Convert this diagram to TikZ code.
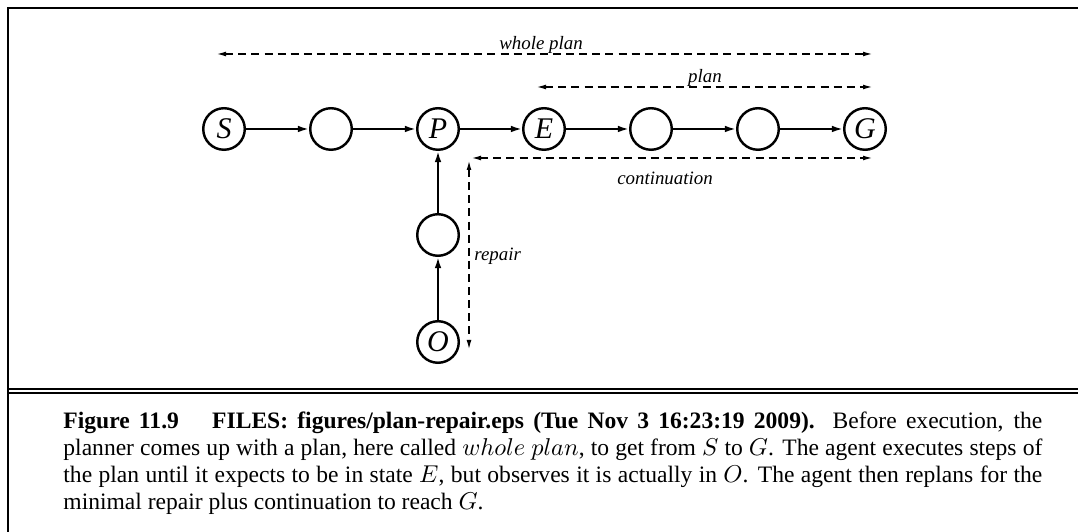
\documentclass[tikz,border=0pt]{standalone}
\usepackage{fontspec}
\setmainfont{Liberation Serif}
\usetikzlibrary{arrows.meta}
\begin{document}
\begin{tikzpicture}[x=0.45pt,y=-0.45pt,
  state/.style={circle,draw,line width=1.1pt,minimum size=18.7pt,inner sep=0pt,
    font=\fontsize{13.5}{16}\selectfont\itshape},
  flow/.style={line width=0.9pt,-{Latex[length=5pt,width=3pt]}},
  span/.style={line width=0.75pt,dash pattern=on 3.6pt off 2.3pt,
    {Latex[length=4.5pt,width=2.2pt]}-{Latex[length=4.5pt,width=2.2pt]}},
  lbl/.style={font=\fontsize{8.5}{10}\selectfont\itshape,inner sep=0pt},
  caption/.style={anchor=base west,inner sep=0pt,text width=440.5pt,align=justify,
    font=\fontsize{10.6}{12.15}\selectfont}]
\useasboundingbox (0,0) rectangle (1078,532);
% frame
\draw[line width=1.1pt,line join=miter] (8,532) -- (8,8) -- (1078,8);
\draw[line width=0.75pt] (8,389) -- (1078,389);
\draw[line width=1.3pt] (8,393) -- (1078,393);
% states
\node[state] (S)  at (224,129) {S};
\node[state] (n2) at (331,129) {};
\node[state] (P)  at (438,129) {P};
\node[state] (E)  at (544,129) {E};
\node[state] (n5) at (651,129) {};
\node[state] (n6) at (758,129) {};
\node[state] (G)  at (865,129) {G};
\node[state] (r)  at (438,235) {};
\node[state] (O)  at (438,342) {O};
% transitions
\draw[flow] (S) -- (n2);
\draw[flow] (n2) -- (P);
\draw[flow] (P) -- (E);
\draw[flow] (E) -- (n5);
\draw[flow] (n5) -- (n6);
\draw[flow] (n6) -- (G);
\draw[flow] (O) -- (r);
\draw[flow] (r) -- (P);
% spans
\coordinate (wpL) at (216,54);
\coordinate (wpR) at (873,54);
\coordinate (plL) at (536,87);
\coordinate (plR) at (873,87);
\coordinate (coL) at (471,158);
\coordinate (coR) at (873,158);
\coordinate (reT) at (469,160);
\coordinate (reB) at (469,350);
\draw[span] (wpL) -- (wpR);
\draw[span] (plL) -- (plR);
\draw[span] (coL) -- (coR);
\draw[span] (reT) -- (reB);
\node[lbl,anchor=base] (wpl) at (541,50) {whole plan};
\node[lbl,anchor=base] (pll) at (705,83) {plan};
\node[lbl,anchor=base] (col) at (665,185) {continuation};
\node[lbl,anchor=base west] (rel) at (474,261) {repair};
% caption
\node[caption] (cap) at (63,428) {\textbf{Figure 11.9}\hspace{15pt}\textbf{FILES: figures/plan-repair.eps (Tue Nov 3 16:23:19 2009).} Before execution, the\linebreak
planner comes up with a plan, here called $whole\ plan$, to get from $S$ to $G$. The agent executes steps of\linebreak
the plan until it expects to be in state $E$, but observes it is actually in $O$. The agent then replans for the\linebreak
minimal repair plus continuation to reach $G$.};
\end{tikzpicture}
\end{document}
